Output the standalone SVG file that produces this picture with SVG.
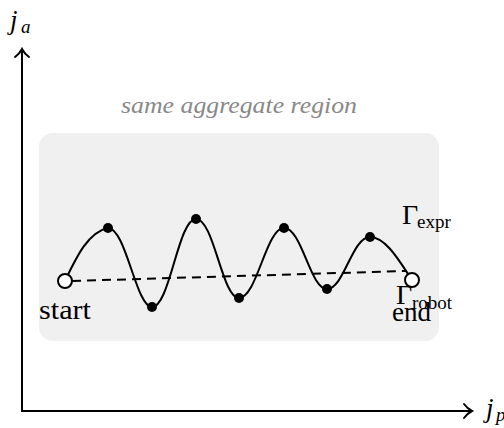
<svg xmlns="http://www.w3.org/2000/svg" width="504" height="428" viewBox="0 0 504 428">
<style>
.txt{font-family:"Liberation Serif","DejaVu Serif",serif;fill:#000}
.it{font-style:italic}
.axis{stroke:#000;stroke-width:2;fill:none}
.curve{stroke:#000;stroke-width:2;fill:none}
.dash{stroke:#000;stroke-width:2;stroke-dasharray:9,6;fill:none}
.open{fill:#fff;stroke:#000;stroke-width:2}
.dot{fill:#000}
</style>
<defs>
<marker id="arr" markerUnits="userSpaceOnUse" markerWidth="20" markerHeight="20" viewBox="-10 -10 20 20" refX="0" refY="0" orient="auto">
<path d="M-8,-7 C-5,-3 -2,-1 0,0 C-2,1 -5,3 -8,7" stroke="#000" stroke-width="2" fill="none" stroke-linecap="round"/>
</marker>
</defs>
<rect width="504" height="428" fill="#fff"/>
<g id="region">
<rect x="39" y="133" width="400" height="208" rx="14" ry="14" fill="#f0f0f0"/>
<text class="txt it" x="121" y="113" font-size="24" style="fill:#888" textLength="236" lengthAdjust="spacingAndGlyphs">same aggregate region</text>
</g>
<g id="connectors">
<line class="axis" x1="22" y1="411" x2="22" y2="49" marker-end="url(#arr)"/>
<line class="axis" x1="21" y1="411" x2="472" y2="411" marker-end="url(#arr)"/>
<line class="dash" x1="72" y1="281" x2="406" y2="271"/>
<path class="curve" d="M65,281 C76,258 88,232 108,228 C126,228 136,307 152,307 C170,307 178,219 196,219 C214,219 222,298 239,298 C257,298 266,228 284,228 C302,228 310,289 327,289 C344,289 352,237 370,237 C386,237 400,262 412,280"/>
</g>
<g id="points">
<circle class="dot" cx="108" cy="228" r="5"/>
<circle class="dot" cx="152" cy="307" r="5"/>
<circle class="dot" cx="196" cy="219" r="5"/>
<circle class="dot" cx="239" cy="298" r="5"/>
<circle class="dot" cx="284" cy="228" r="5"/>
<circle class="dot" cx="327" cy="289" r="5"/>
<circle class="dot" cx="370" cy="237" r="5"/>
</g>
<g id="start">
<circle class="open" cx="65" cy="281" r="7"/>
<text class="txt" x="39" y="319" font-size="27" textLength="52" lengthAdjust="spacingAndGlyphs">start</text>
</g>
<g id="end">
<circle class="open" cx="412" cy="280" r="7"/>
<text class="txt" x="396" y="304" font-size="28">Γ</text>
<text class="txt" x="412" y="309" font-size="19">robot</text>
<text class="txt" x="392" y="321" font-size="27">end</text>
</g>
<g id="expr">
<text class="txt" x="402" y="224" font-size="28">Γ</text>
<text class="txt" x="417" y="228" font-size="19">expr</text>
</g>
<g id="labels">
<text class="txt it" x="10" y="29" font-size="27">j</text>
<text class="txt it" x="21" y="33" font-size="19">a</text>
<text class="txt it" x="486" y="417" font-size="27">j</text>
<text class="txt it" x="496" y="421" font-size="19">p</text>
</g>
</svg>
